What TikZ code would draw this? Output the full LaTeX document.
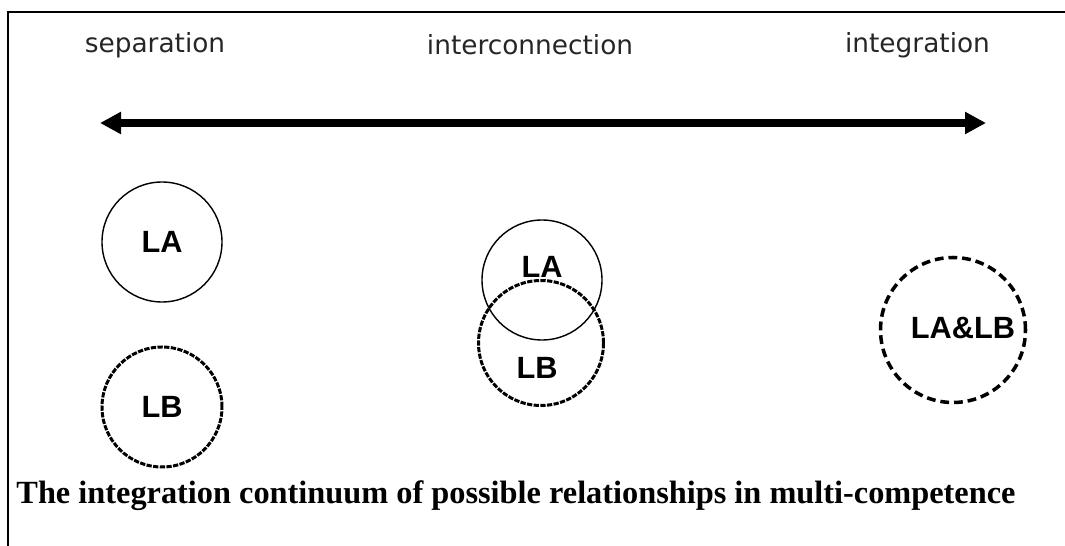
\documentclass[tikz,border=0pt]{standalone}
\usepackage{fontspec}
\setmainfont{Liberation Serif}
\newfontfamily\toplabelfont{DejaVu Sans}
\newfontfamily\circlefont{Liberation Sans}
\usepackage{tikz}
\usetikzlibrary{arrows.meta,positioning,calc}

\begin{document}
\begin{tikzpicture}[
    stage/.style={font=\toplabelfont\fontsize{15}{18}\selectfont, text=black!85},
    lang/.style={circle, draw, minimum size=2.4cm, inner sep=0pt},
    solidlang/.style={lang, line width=0.8pt},
    dotlang/.style={lang, line width=1.7pt, dash pattern=on 3pt off 0.8pt},
    tag/.style={font=\circlefont\bfseries\fontsize{17.5}{20}\selectfont},
    axisarrow/.style={line width=4pt, {Triangle[length=0.42cm,width=0.42cm]}-{Triangle[length=0.42cm,width=0.42cm]}}
]
    \useasboundingbox (0,0) rectangle (21.3,-10.92);
    % Frame (open on the right and at the bottom)
    \draw[line width=1.6pt] (21.3,-0.24) -- (0.16,-0.24) -- (0.16,-10.92);

    % Stages of the continuum
    \node[stage] (sep) at (3.1,-0.9) {separation};
    \node[stage] (inter) at (10.6,-0.9) {interconnection};
    \node[stage] (integ) at (18.35,-0.9) {integration};

    % Continuum arrow
    \coordinate (arrowL) at (2.0,-2.46);
    \coordinate (arrowR) at (19.72,-2.46);
    \draw[axisarrow] (arrowL) -- (arrowR);

    % Separation
    \node[solidlang] (sepA) at (3.24,-4.84) {};
    \node[tag] at (sepA) {LA};
    \node[dotlang] (sepB) at (3.24,-8.14) {};
    \node[tag] at (sepB) {LB};

    % Interconnection
    \node[solidlang] (intA) at (10.84,-5.6) {};
    \node[dotlang, minimum size=2.5cm] (intB) at (10.82,-6.86) {};
    \node[tag] (intAtag) at (10.84,-5.34) {LA};
    \node[tag] (intBtag) at (10.74,-7.36) {LB};

    % Integration
    \node[lang, minimum size=2.9cm, line width=2pt, dash pattern=on 5pt off 2.8pt] (intgAB) at (19.06,-6.6) {};
    \node[tag] (intgtag) at (19.26,-6.56) {LA\&LB};

    % Caption
    \node[font=\bfseries\fontsize{18.4}{21}\selectfont] (caption) at (10.32,-9.92)
        {The integration continuum of possible relationships in multi-competence};
\end{tikzpicture}
\end{document}
